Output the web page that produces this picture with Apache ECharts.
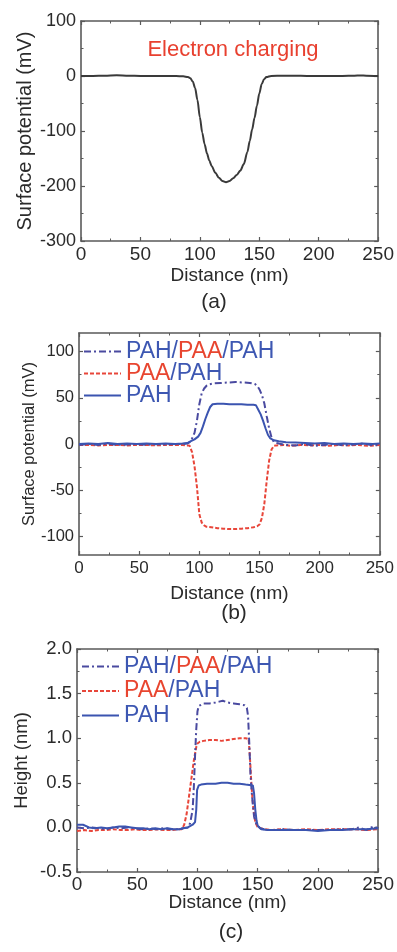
<!DOCTYPE html>
<html>
<head>
<meta charset="utf-8">
<script src="https://cdn.jsdelivr.net/npm/echarts@6/dist/echarts.min.js"></script>
<style>
html,body{margin:0;padding:0;background:#fff;}
#chart{width:397px;height:952px;}
</style>
</head>
<body>
<div id="chart"></div>
<script>
// ---------- data ----------
// Panel (a): electron charging surface potential (mV) vs distance (nm)
const xA = [0,10,20,30,40,50,60,70,80,86,90,92,94,96,98,100,102,104,106,108,110,113,116,119,122,125,128,131,134,137,140,142,144,146,148,150,152,154,156,160,170,180,190,200,210,220,230,235,240,250];
const yA = [0,0,0.5,1.5,0.5,0,0,0,0,-0.5,-2,-4,-10,-22,-44,-75,-103,-124,-141,-154,-164,-176,-185,-191,-193,-191,-186,-180,-172,-160,-138,-118,-97,-76,-54,-32,-15,-6,-2,0,0.5,0.5,0,0,0,0,0.5,1,0.5,0];

// Panel (b): surface potential (mV)
const xB_tri = [0,8,16,24,32,40,48,56,64,72,80,86,90,92,94,96,98,100,102,104,106,108,112,118,124,130,136,142,146,148,150,152,154,156,158,160,162,166,172,180,188,196,204,212,220,228,236,244,250];
const yB_tri = [-1,0,-1,0.5,-1,-0.5,0,-1,0,-0.5,0,0,0.5,2,6,12,25,43,55,60,63,64.5,65.5,66,66.5,67,66.5,66,65,63,59,53,44,30,17,7,2,0.5,-1,-1.5,0,-2,-1,0,-1.5,-0.5,0.5,-1.5,-1];
const xB_bi = [0,8,16,24,32,40,48,56,64,72,80,86,90,92,94,96,98,100,102,104,106,110,115,120,125,130,135,140,145,148,150,152,154,156,158,160,162,164,170,176,184,192,200,208,216,224,232,240,250];
const yB_bi = [-1,-1,-1.5,-1,-1,-1.5,-1,-1,-1.5,-1,-1,-1,-1.5,-2,-9,-24,-46,-76,-85,-88,-89.5,-90,-91,-91.5,-92,-92,-91.5,-91,-90,-89,-87,-80,-65,-40,-18,-6,-2,-1.5,-1,-2,-1,-1.5,-1,-2,-1,-1.5,-1,-2,-1];
const xB_mono = [0,8,16,24,32,40,48,56,64,72,80,86,90,93,96,99,101,103,105,107,109,111,115,120,125,130,135,140,145,147,149,151,153,155,157,159,162,166,172,180,188,196,204,212,220,228,236,244,250];
const yB_mono = [0,0.5,0,1,0,0.5,0,0.5,0,0.5,0,0.5,1,3,5,8,12,19,27,34,40,43,43.5,43.5,43,43,43,42.5,42.5,42,37,32,25,17,10,6,4,3,2,1.5,1,0.5,1,0,0.5,0,0.5,0,0.5];

// Panel (c): height (nm)
const xC_tri = [0,6,12,18,24,30,36,42,48,54,60,66,72,78,84,88,92,94,96,97,98,99,100,101,102,105,110,115,118,121,125,130,135,139,141,142,143,144,145,146,147,149,152,158,165,172,180,190,200,210,220,228,234,240,246,250];
const yC_tri = [0.0,-0.01,0.0,-0.01,-0.02,0.0,-0.01,0.0,-0.01,-0.02,-0.01,-0.02,-0.01,-0.02,-0.02,-0.01,0.0,0.05,0.2,0.45,0.8,1.1,1.3,1.36,1.38,1.39,1.39,1.40,1.41,1.42,1.40,1.39,1.38,1.37,1.34,1.25,0.95,0.6,0.4,0.25,0.12,0.03,-0.01,-0.03,-0.03,-0.02,-0.03,-0.03,-0.03,-0.03,-0.02,-0.02,0.0,-0.03,0.01,-0.01];
const xC_bi = [0,6,12,18,24,30,36,42,48,54,60,66,72,78,84,87,89,91,93,95,97,99,100,102,105,110,115,120,125,130,135,140,142.5,143.5,144.5,145.5,146.5,148,150,155,162,170,180,190,200,210,220,230,240,250];
const yC_bi = [-0.04,-0.03,-0.04,-0.03,-0.03,-0.02,-0.03,-0.03,-0.02,-0.03,-0.03,-0.02,-0.03,-0.03,-0.02,-0.02,0.03,0.15,0.35,0.55,0.75,0.9,0.94,0.96,0.97,0.98,0.98,0.97,0.98,0.99,1.0,1.0,0.99,0.8,0.55,0.35,0.2,0.06,0.0,-0.02,-0.03,-0.02,-0.03,-0.02,-0.03,-0.02,-0.02,-0.02,-0.03,-0.02];
const xC_mono = [0,5,10,15,20,25,30,35,40,45,50,55,60,65,70,75,80,85,88,92,96,98,99,99.7,101,103,108,115,120,125,130,135,140,146,147,148,149,150,153,158,165,172,180,190,200,210,220,230,240,250];
const yC_mono = [0.03,0.03,0.0,-0.01,0.0,-0.01,0.0,0.01,0.01,0.0,-0.01,-0.01,-0.02,-0.01,-0.02,-0.01,-0.02,-0.02,-0.01,0.0,0.03,0.06,0.2,0.42,0.47,0.48,0.49,0.49,0.5,0.5,0.49,0.49,0.48,0.47,0.38,0.2,0.08,0.02,-0.02,-0.03,-0.03,-0.03,-0.03,-0.03,-0.04,-0.03,-0.03,-0.02,-0.02,-0.01];

// tick labels
const xTicks = [0,50,100,150,200,250];
const yTicksA = [-300,-200,-100,0,100];
const yTicksB = [-100,-50,0,50,100];
const yMinorB = [-75,-25,25,75];
const yTicksC = [-0.5,0.0,0.5,1.0,1.5,2.0];

const names = ['PAH/PAA/PAH','PAA/PAH','PAH'];
const seriesNames = {tri: names[0], bi: names[1], mono: names[2]};

// ---------- styling ----------
const FONT = '"Liberation Sans", Arial, Helvetica, sans-serif';
const TXT = '#2a2a2a';
const AX = '#5a5a5a';
const BLUE_DD = '#4a4aa0';
const BLUE = '#3b54b0';
const RED = '#e8463a';
const BLUE_TXT = '#3d57b2';
const RED_TXT = '#e8452f';

const pairs = (xs, ys) => xs.map((x, i) => [x, ys[i]]);

function xAxisDef(grid, pos, show, fs, nameGap, margin) {
  return {
    type: 'value', gridIndex: grid, position: pos, min: 0, max: 250, interval: 50,
    name: show ? 'Distance (nm)' : '', nameLocation: 'middle', nameGap: nameGap, nameMoveOverlap: false,
    nameTextStyle: {fontFamily: FONT, fontSize: 19, color: TXT},
    axisLine: {show: true, onZero: false, lineStyle: {color: AX, width: 1.6}},
    axisTick: {show: true, inside: true, length: 4, lineStyle: {color: AX, width: 1.2}},
    minorTick: {show: true, splitNumber: 2, length: 2.5, lineStyle: {color: AX, width: 1}},
    axisLabel: {show: show, margin: margin, fontFamily: FONT, fontSize: fs, color: TXT, showMinLabel: true, showMaxLabel: true},
    splitLine: {show: false}, minorSplitLine: {show: false}
  };
}
function yAxisDef(grid, pos, show, opts) {
  const o = {
    type: 'value', gridIndex: grid, position: pos, min: opts.min, max: opts.max,
    name: show ? opts.name : '', nameLocation: 'middle', nameGap: opts.nameGap || 40, nameMoveOverlap: false,
    nameTextStyle: {fontFamily: FONT, fontSize: opts.nameSize || 19, color: TXT},
    axisLine: {show: true, onZero: false, lineStyle: {color: AX, width: 1.6}},
    axisTick: {show: true, inside: true, length: 4, lineStyle: {color: AX, width: 1.2}},
    minorTick: {show: !!opts.interval, splitNumber: 2, length: 2.5, lineStyle: {color: AX, width: 1}},
    axisLabel: {show: show, margin: 5, fontFamily: FONT, fontSize: opts.fs || 17, color: TXT, showMinLabel: true, showMaxLabel: true,
      formatter: opts.fmt || undefined},
    splitLine: {show: false}, minorSplitLine: {show: false}
  };
  if (opts.interval) o.interval = opts.interval;
  if (opts.custom) {
    o.axisLabel.customValues = opts.custom;
    o.axisTick.customValues = opts.custom;
  }
  return o;
}
function minorAxis(grid, pos, min, max, vals) {
  return {
    type: 'value', gridIndex: grid, position: pos, min: min, max: max,
    axisLine: {show: false, onZero: false},
    axisTick: {show: true, inside: true, length: 2.5, customValues: vals, lineStyle: {color: AX, width: 1}},
    axisLabel: {show: false}, splitLine: {show: false}
  };
}

function legendFmt(name) {
  if (name === names[0]) return '{b|PAH/}{r|PAA}{b|/PAH}';
  if (name === names[1]) return '{r|PAA}{b|/PAH}';
  return '{b|PAH}';
}
function legendDef(left, top, gap, lh) {
  return {
    orient: 'vertical', left: left, top: top, padding: 0, itemGap: gap,
    itemWidth: 37, itemHeight: 10, selectedMode: false,
    itemStyle: {opacity: 0},
    data: names, formatter: legendFmt,
    textStyle: {fontFamily: FONT, fontSize: 23, rich: {
      b: {color: BLUE_TXT, fontSize: 23, fontFamily: FONT, lineHeight: lh},
      r: {color: RED_TXT, fontSize: 23, fontFamily: FONT, lineHeight: lh}
    }}
  };
}

const triStyle = {color: BLUE_DD, width: 2, type: [7, 3, 2, 3]};
const biStyle = {color: RED, width: 2, type: [4, 2]};
const monoStyle = {color: BLUE, width: 2, type: 'solid'};
function lineSeries(name, xi, yi, data, style, z) {
  return {
    type: 'line', name: name, xAxisIndex: xi, yAxisIndex: yi, data: data,
    symbol: 'none', smooth: false, lineStyle: style, itemStyle: {color: style.color},
    z: z, animation: false
  };
}

const option = {
  animation: false,
  backgroundColor: '#ffffff',
  grid: [
    {left: 81, top: 21, width: 298, height: 220},
    {left: 79, top: 333, width: 301, height: 222},
    {left: 77, top: 649, width: 303, height: 223}
  ],
  xAxis: [
    xAxisDef(0, 'bottom', true, 19, 25, 4),
    xAxisDef(0, 'top', false, 19, 0, 0),
    xAxisDef(1, 'bottom', true, 17, 29, 5),
    xAxisDef(1, 'top', false, 17, 0, 0),
    xAxisDef(2, 'bottom', true, 19, 21, 3),
    xAxisDef(2, 'top', false, 19, 0, 0)
  ],
  yAxis: [
    yAxisDef(0, 'left', true, {min: -300, max: 100, interval: 100, name: 'Surface potential (mV)', nameGap: 46, nameSize: 20, fs: 18}),
    yAxisDef(0, 'right', false, {min: -300, max: 100, interval: 100}),
    yAxisDef(1, 'left', true, {min: -120, max: 120, custom: yTicksB, name: 'Surface potential (mV)', nameGap: 41, nameSize: 16.5, fs: 16.5}),
    yAxisDef(1, 'right', false, {min: -120, max: 120, custom: yTicksB}),
    minorAxis(1, 'left', -120, 120, yMinorB),
    minorAxis(1, 'right', -120, 120, yMinorB),
    yAxisDef(2, 'left', true, {min: -0.5, max: 2.0, interval: 0.5, name: 'Height (nm)', nameGap: 45.5, nameSize: 18.5, fs: 18.5,
      fmt: v => v.toFixed(1)}),
    yAxisDef(2, 'right', false, {min: -0.5, max: 2.0, interval: 0.5})
  ],
  legend: [legendDef(83, 340, -1, 22), legendDef(81, 655, 1.5, 22)],
  series: [
    {type: 'line', name: 'Electron charging', xAxisIndex: 0, yAxisIndex: 0, data: pairs(xA, yA),
     symbol: 'none', smooth: 0.3, smoothMonotone: 'x', lineStyle: {color: '#3a3a3a', width: 2}, animation: false},
    lineSeries(seriesNames.bi, 2, 2, pairs(xB_bi, yB_bi), biStyle, 2),
    lineSeries(seriesNames.tri, 2, 2, pairs(xB_tri, yB_tri), triStyle, 3),
    lineSeries(seriesNames.mono, 2, 2, pairs(xB_mono, yB_mono), monoStyle, 4),
    lineSeries(seriesNames.bi, 4, 6, pairs(xC_bi, yC_bi), biStyle, 2),
    lineSeries(seriesNames.tri, 4, 6, pairs(xC_tri, yC_tri), triStyle, 3),
    lineSeries(seriesNames.mono, 4, 6, pairs(xC_mono, yC_mono), monoStyle, 4)
  ],
  graphic: [
    {type: 'text', x: 233, y: 50, style: {text: 'Electron charging', font: '22px ' + FONT, fill: '#e8402f', textAlign: 'center', textVerticalAlign: 'middle'}},
    {type: 'text', x: 214, y: 302, style: {text: '(a)', font: '21px ' + FONT, fill: TXT, textAlign: 'center', textVerticalAlign: 'middle'}},
    {type: 'text', x: 234, y: 613, style: {text: '(b)', font: '21px ' + FONT, fill: TXT, textAlign: 'center', textVerticalAlign: 'middle'}},
    {type: 'text', x: 231, y: 932, style: {text: '(c)', font: '21px ' + FONT, fill: TXT, textAlign: 'center', textVerticalAlign: 'middle'}}
  ]
};

const chart = echarts.init(document.getElementById('chart'), null, {renderer: 'canvas'});
chart.setOption(option);
</script>
</body>
</html>
